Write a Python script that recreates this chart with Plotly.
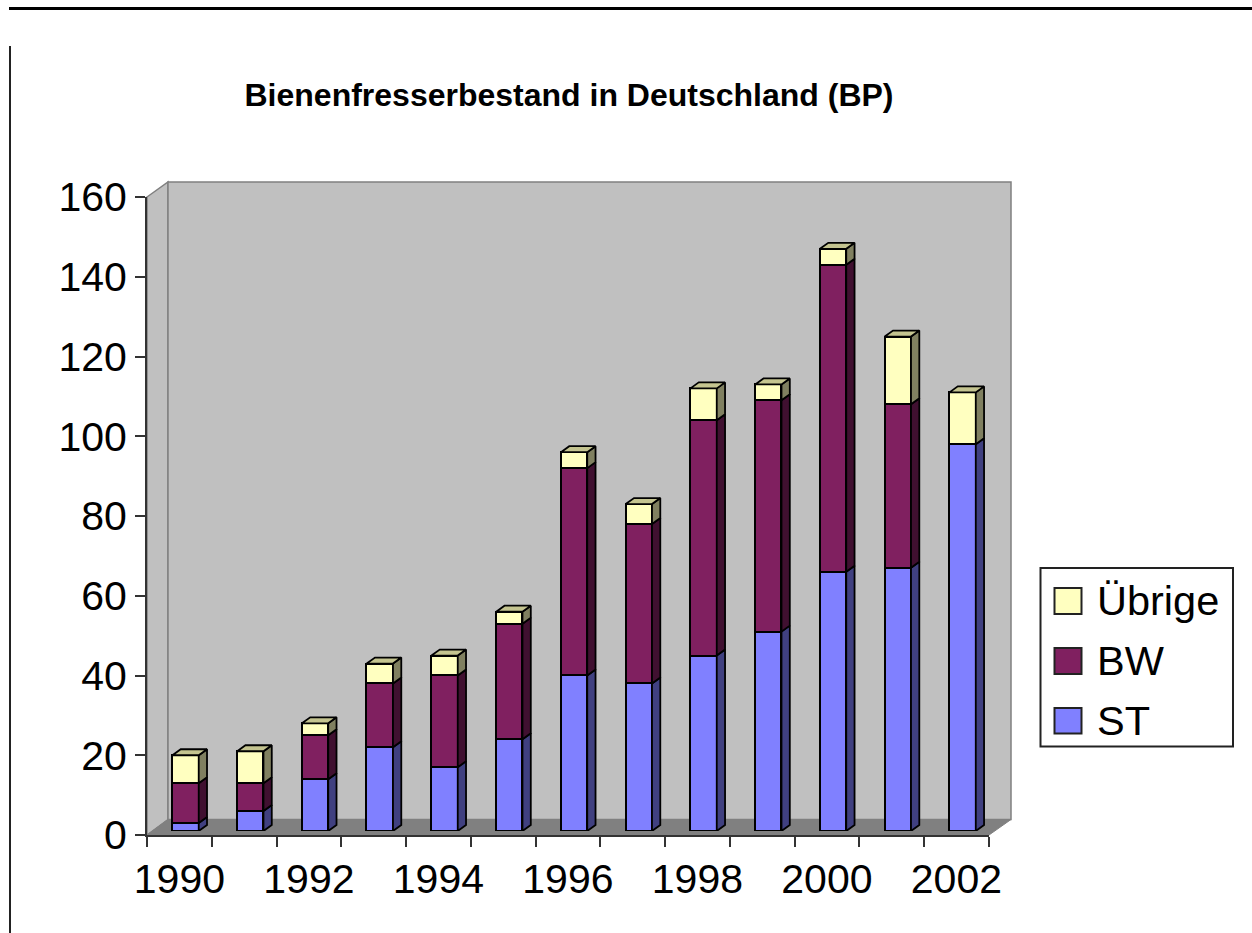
import plotly.graph_objects as go

years = list(range(1990, 2003))
ST = [2, 5, 13, 21, 16, 23, 39, 37, 44, 50, 65, 66, 97]
BW = [10, 7, 11, 16, 23, 29, 52, 40, 59, 58, 77, 41, 0]
UE = [7, 8, 3, 5, 5, 3, 4, 5, 8, 4, 4, 17, 13]
y_ticks = [0, 20, 40, 60, 80, 100, 120, 140, 160]
year_ticks = [1990, 1992, 1994, 1996, 1998, 2000, 2002]
title_text = "Bienenfresserbestand in Deutschland (BP)"
series_names = ["Übrige", "BW", "ST"]

W, H = 1252, 933
FONT = "Liberation Sans"
FRONT = {"ST": "#8080FF", "BW": "#802060", "Übrige": "#FFFFC0"}
SIDE = {"ST": "#404080", "BW": "#401030", "Übrige": "#808060"}
TOP = "#C4C490"
BAR_W = 0.406
DX, DY = 8.3 / 64.8, 6 / 3.99


def px(x):
    return x / W


def py(y):
    return 1 - y / H


def poly(points):
    return "M" + "L".join(f"{px(a)},{py(b)}" for a, b in points) + "Z"


fig = go.Figure()
# Invisible trace so the visible front axes are drawn
fig.add_trace(go.Scatter(x=[years[0]], y=[y_ticks[0]], mode="markers", marker=dict(opacity=0),
                         hoverinfo="skip", showlegend=False))

lo = [0] * len(years)
stacks = []
for name, vals in [("ST", ST), ("BW", BW), ("Übrige", UE)]:
    hi = [a + b for a, b in zip(lo, vals)]
    stacks.append((name, vals, list(lo), hi))
    lo = hi

for name, vals, low, high in stacks:
    fig.add_trace(go.Bar(x=years, y=vals, name=name, width=BAR_W, xaxis="x2", yaxis="y2",
                         marker=dict(color=FRONT[name], line=dict(color="#000000", width=2)),
                         showlegend=False))

for name, vals, low, high in stacks:
    xs, ys = [], []
    for yr, a, b, v in zip(years, low, high, vals):
        if v == 0:
            continue
        r = yr + BAR_W / 2
        xs += [r, r + DX, r + DX, r, r, None]
        ys += [a, a + DY, b + DY, b, a, None]
    fig.add_trace(go.Scatter(x=xs, y=ys, xaxis="x2", yaxis="y2", mode="lines", fill="toself",
                             fillcolor=SIDE[name], line=dict(color="#000000", width=1.8),
                             hoverinfo="skip", showlegend=False))

xs, ys = [], []
for yr, t in zip(years, stacks[-1][3]):
    l, r = yr - BAR_W / 2, yr + BAR_W / 2
    xs += [l, l + DX, r + DX, r, l, None]
    ys += [t, t + DY, t + DY, t, t, None]
fig.add_trace(go.Scatter(x=xs, y=ys, xaxis="x2", yaxis="y2", mode="lines", fill="toself",
                         fillcolor=TOP, line=dict(color="#000000", width=1.8),
                         hoverinfo="skip", showlegend=False))

GRID = "#808080"
shapes = [
    dict(type="line", xref="paper", yref="paper", x0=px(9), x1=1, y0=py(8.5), y1=py(8.5),
         line=dict(color="#000000", width=3), layer="below"),
    dict(type="line", xref="paper", yref="paper", x0=px(10), x1=px(10), y0=py(46), y1=0,
         line=dict(color="#222222", width=2), layer="below"),
    # side wall, back wall, floor of the 3D box
    dict(type="path", xref="paper", yref="paper", layer="below",
         path=poly([(147, 197), (168, 182), (168, 819.5), (147, 835)]),
         fillcolor="#C0C0C0", line=dict(color=GRID, width=1.5)),
    dict(type="path", xref="paper", yref="paper", layer="below",
         path=poly([(168, 182), (1011, 182), (1011, 819.5), (168, 819.5)]),
         fillcolor="#C0C0C0", line=dict(color=GRID, width=1.5)),
    dict(type="path", xref="paper", yref="paper", layer="below",
         path=poly([(147, 835), (168, 819.5), (1011, 819.5), (989, 835)]),
         fillcolor="#808080", line=dict(color=GRID, width=1)),
    # legend frame
    dict(type="rect", xref="paper", yref="paper", layer="below",
         x0=px(1040.5), x1=px(1233), y0=py(568), y1=py(746.5),
         fillcolor="#FFFFFF", line=dict(color="#222222", width=2)),
]
annotations = []
for name, top, bottom in zip(series_names, [588, 648, 708], [614, 674, 733.5]):
    shapes.append(dict(type="rect", xref="paper", yref="paper", x0=px(1054.5), x1=px(1081.5),
                       y0=py(top), y1=py(bottom), fillcolor=FRONT[name],
                       line=dict(color="#222222", width=2)))
    annotations.append(dict(xref="paper", yref="paper", x=px(1095), y=py((top + bottom) / 2 - 0.5),
                            text=name, showarrow=False, xanchor="left", yanchor="middle",
                            font=dict(family=FONT, size=41.5, color="#000000")))

fig.update_layout(
    width=W, height=H, autosize=False,
    margin=dict(l=0, r=0, t=0, b=0, pad=0),
    paper_bgcolor="#FFFFFF", plot_bgcolor="rgba(0,0,0,0)",
    barmode="stack", bargap=0, showlegend=False,
    font=dict(family=FONT, color="#000000"),
    title=dict(text=f"<b>{title_text}</b>", x=569 / W, y=py(95), xanchor="center", yanchor="middle",
               xref="paper", yref="paper", font=dict(family=FONT, size=32, color="#000000")),
    shapes=shapes, annotations=annotations,
    xaxis=dict(domain=[px(147), px(988.8)], range=[1989.5, 2002.5], anchor="y", automargin=False,
               tickmode="array", tickvals=year_ticks, ticks="", ticklabelstandoff=7,
               tickfont=dict(family=FONT, size=41), showgrid=False, zeroline=False,
               showline=True, linecolor="#333333", linewidth=2,
               minor=dict(tickmode="array", tickvals=[y - 0.5 for y in years + [2003]],
                          ticks="outside", ticklen=10, tickwidth=2, tickcolor="#333333", showgrid=False)),
    yaxis=dict(domain=[py(835), py(197)], range=[0, 160], anchor="x", automargin=False,
               tickmode="array", tickvals=y_ticks, ticks="outside", ticklen=10, tickwidth=2,
               tickcolor="#333333", ticklabelstandoff=0,
               tickfont=dict(family=FONT, size=41), showgrid=False, zeroline=False,
               showline=True, linecolor="#333333", linewidth=2),
    xaxis2=dict(domain=[px(153.2), px(995)], range=[1989.5, 2002.5], visible=False, anchor="y2",
                automargin=False),
    yaxis2=dict(domain=[py(831), py(193)], range=[0, 160], visible=False, anchor="x2",
                automargin=False),
)

fig.write_html("out.html", config={"displayModeBar": False},
               post_script="document.body.style.margin='0';document.body.style.overflow='hidden';")
